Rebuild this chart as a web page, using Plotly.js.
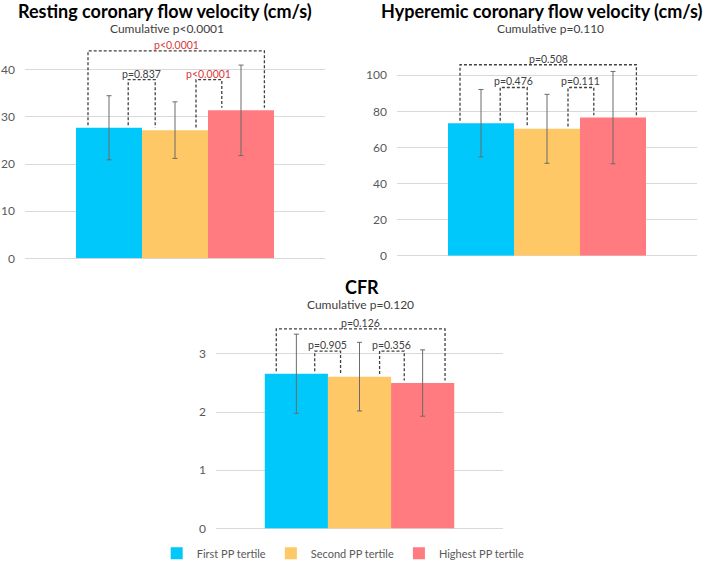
<!DOCTYPE html>
<html>
<head>
<meta charset="utf-8">
<script src="https://cdn.plot.ly/plotly-3.0.1.min.js"></script>
<style>html,body{margin:0;padding:0;background:#fff;}#chart{width:709px;height:568px;}</style>
</head>
<body>
<div id="chart"></div>
<script>
// ---- data ----
const groups = ['First PP tertile', 'Second PP tertile', 'Highest PP tertile'];
const restingMean = [27.7, 27.2, 31.4];
const restingSD = [6.8, 6.0, 9.6];
const hyperemicMean = [73.4, 70.3, 76.5];
const hyperemicSD = [18.7, 19.1, 25.6];
const cfrMean = [2.66, 2.61, 2.50];
const cfrSD = [0.68, 0.59, 0.57];
const panelTitles = ['Resting coronary flow velocity (cm/s)', 'Hyperemic coronary flow velocity (cm/s)', 'CFR'];
const cumulativeP = ['Cumulative p<0.0001', 'Cumulative p=0.110', 'Cumulative p=0.120'];
// pairwise p-values: [first vs second, second vs highest, first vs highest]
const restingPairP = ['p=0.837', 'p<0.0001', 'p<0.0001'];
const hyperemicPairP = ['p=0.476', 'p=0.111', 'p=0.508'];
const cfrPairP = ['p=0.905', 'p=0.356', 'p=0.126'];
const yTicks1 = [0, 10, 20, 30, 40];
const yTicks2 = [0, 20, 40, 60, 80, 100];
const yTicks3 = [0, 1, 2, 3];

// ---- style ----
const colors = ['#00c8fa', '#fdc865', '#ff7b7f'];
const FONT = 'Lato, "Open Sans", sans-serif';
const BARGAP = 0.34;

const panels = [
  {mean: restingMean, sd: restingSD, pairs: restingPairP, ticks: yTicks1, ax: '', range: [0, 45],
   xdom: [25/709, 325/709], ydom: [1-262/568, 1-(262-45*4.78)/568], innerY: 37.9, outerY: 44.0,
   title: {x: 165, y: 11}, sub: {x: 167, y: 29}},
  {mean: hyperemicMean, sd: hyperemicSD, pairs: hyperemicPairP, ticks: yTicks2, ax: '2', range: [0, 110],
   xdom: [397/709, 697/709], ydom: [1-259.3/568, 1-(259.3-110*1.83)/568], innerY: 93.2, outerY: 105.8,
   title: {x: 541, y: 11}, sub: {x: 550, y: 29}},
  {mean: cfrMean, sd: cfrSD, pairs: cfrPairP, ticks: yTicks3, ax: '3', range: [0, 3.6],
   xdom: [216/709, 503/709], ydom: [1-536/568, 1-(536-3.6*59.0)/568], innerY: 3.05, outerY: 3.43,
   title: {x: 362, y: 291}, sub: {x: 360, y: 309}}
];

const traces = [];
const shapes = [];
const annotations = [];
const layout = {
  width: 709, height: 568,
  margin: {l: 0, r: 0, t: 0, b: 0},
  paper_bgcolor: '#fff', plot_bgcolor: '#fff',
  barmode: 'group', bargap: BARGAP, bargroupgap: 0,
  font: {family: FONT, color: '#595959', size: 12},
  showlegend: true,
  legend: {orientation: 'h', x: 0.221, xanchor: 'left', y: 0.012, yanchor: 'middle',
           font: {family: FONT, size: 11, color: '#595959'}, itemwidth: 30, tracegroupgap: 0}
};

const w = (1 - BARGAP) / 3;
const centers = [0, 1, 2].map(i => -(1 - BARGAP) / 2 + w * (i + 0.5));

panels.forEach((p, pi) => {
  const xa = 'x' + p.ax, ya = 'y' + p.ax;
  groups.forEach((g, gi) => {
    traces.push({
      type: 'bar', x: [0], y: [p.mean[gi]], name: g,
      xaxis: xa, yaxis: ya,
      marker: {color: colors[gi], line: {width: 0}},
      error_y: {type: 'data', array: [p.sd[gi]], visible: true, color: '#6b6b6b', thickness: 1, width: 2.5},
      legendgroup: g, showlegend: pi === 2, hoverinfo: 'skip'
    });
  });
  layout['xaxis' + p.ax] = {domain: p.xdom, range: [-0.5, 0.5], anchor: ya, showticklabels: false,
    showgrid: false, zeroline: false, showline: false, ticks: '', fixedrange: true};
  layout['yaxis' + p.ax] = {domain: p.ydom, range: p.range, anchor: xa, tickvals: p.ticks,
    showgrid: true, gridcolor: '#d9d9d9', gridwidth: 1, zeroline: true, zerolinecolor: '#d9d9d9', zerolinewidth: 1,
    showline: false, ticks: '', ticklabelstandoff: 9, tickfont: {family: FONT, size: 12, color: '#595959'}, fixedrange: true};

  const off = (p.range[1] - p.range[0]) * 0.012;
  const brackets = [
    {a: 0, b: 1, y: p.innerY, text: p.pairs[0], la: 0.064, lb: -0.066},
    {a: 1, b: 2, y: p.innerY, text: p.pairs[1], la: 0.07, lb: -0.064},
    {a: 0, b: 2, y: p.outerY, text: p.pairs[2], la: -0.07, lb: 0.078}
  ];
  brackets.forEach(br => {
    const x1 = centers[br.a] + br.la, x2 = centers[br.b] + br.lb;
    const y1 = p.mean[br.a] + off, y2 = p.mean[br.b] + off;
    shapes.push({type: 'path', xref: xa, yref: ya,
      path: `M ${x1},${y1} L ${x1},${br.y} L ${x2},${br.y} L ${x2},${y2}`,
      line: {color: '#404040', width: 1.3, dash: '3px,2px'}, layer: 'above'});
    const sig = br.text.indexOf('<') >= 0 || parseFloat(br.text.split('=')[1]) < 0.05;
    annotations.push({xref: xa, yref: ya, x: (x1 + x2) / 2, y: br.y, yanchor: 'bottom', xanchor: 'center',
      text: br.text, showarrow: false, yshift: -2,
      font: {family: FONT, size: 10.5, color: sig ? '#d9383a' : '#404040'}});
  });
  annotations.push({xref: 'paper', yref: 'paper', x: p.title.x / 709, y: 1 - p.title.y / 568,
    xanchor: 'center', yanchor: 'middle', showarrow: false, text: '<b>' + panelTitles[pi] + '</b>',
    font: {family: FONT, size: 18, color: '#000'}});
  annotations.push({xref: 'paper', yref: 'paper', x: p.sub.x / 709, y: 1 - p.sub.y / 568,
    xanchor: 'center', yanchor: 'middle', showarrow: false, text: cumulativeP[pi],
    font: {family: FONT, size: 12, color: '#404040'}});
});

layout.shapes = shapes;
layout.annotations = annotations;
Plotly.newPlot('chart', traces, layout, {staticPlot: true});
</script>
</body>
</html>
